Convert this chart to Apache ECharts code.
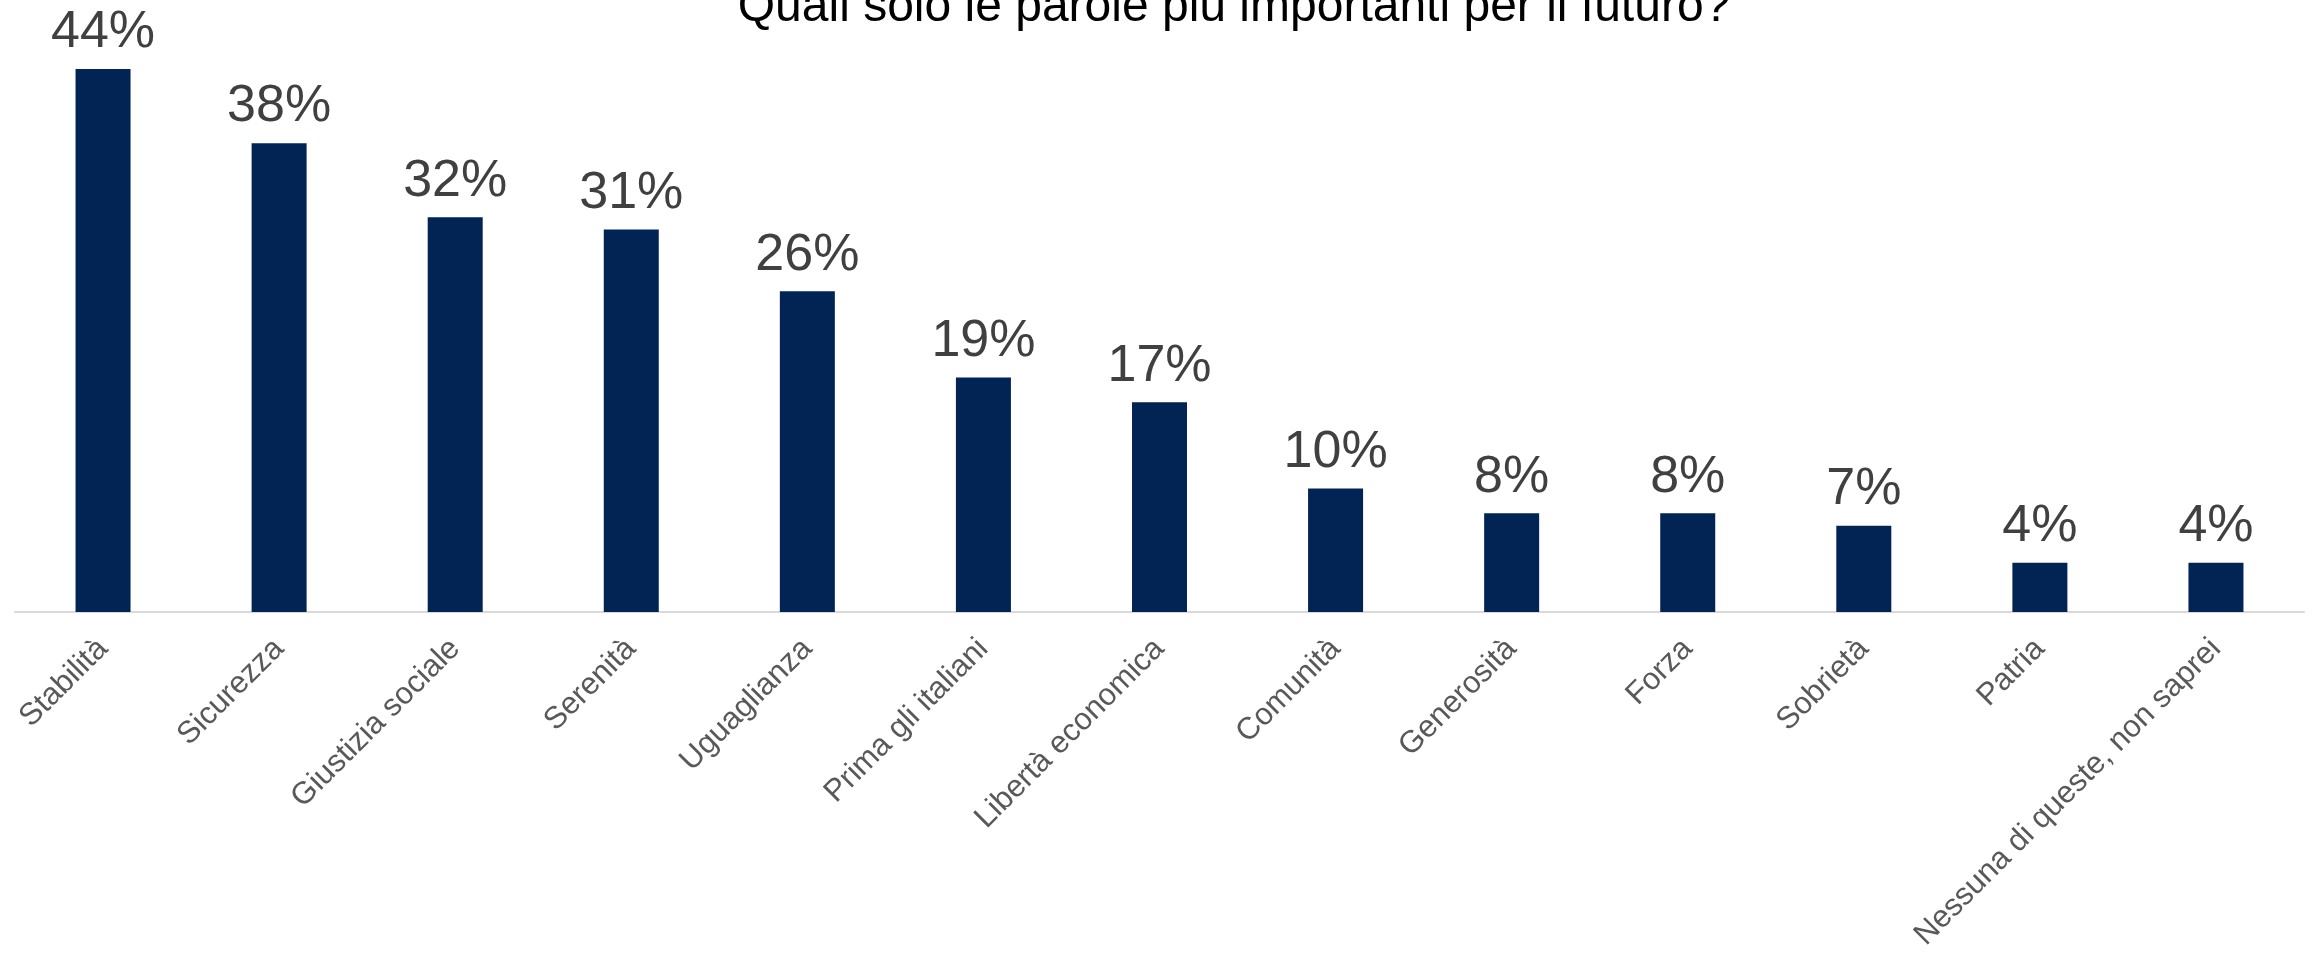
<!DOCTYPE html>
<html>
<head>
<meta charset="utf-8">
<script src="https://cdn.jsdelivr.net/npm/echarts@6/dist/echarts.min.js"></script>
<style>html,body{margin:0;padding:0;background:#fff}#c{width:2313px;height:960px}</style>
</head>
<body>
<div id="c"></div>
<script>
const categories = ["Stabilità","Sicurezza","Giustizia sociale","Serenità","Uguaglianza","Prima gli italiani","Libertà economica","Comunità","Generosità","Forza","Sobrietà","Patria","Nessuna di queste, non saprei"];
const values = [44,38,32,31,26,19,17,10,8,8,7,4,4];
const titleText = "Quali solo le parole più importanti per il futuro?";

const chart = echarts.init(document.getElementById('c'));
chart.setOption({
  animation: false,
  backgroundColor: '#fff',
  title: {
    text: titleText,
    left: 1229,
    textAlign: 'center',
    top: -21,
    textStyle: {fontFamily: 'Liberation Sans, Arial', fontSize: 48, fontWeight: 'normal', color: '#000'}
  },
  grid: {left: 15, right: 9, top: -3, bottom: 348, containLabel: false},
  xAxis: {
    type: 'category',
    data: categories,
    axisLine: {lineStyle: {color: '#d9d9d9', width: 2}},
    axisTick: {show: false},
    axisLabel: {rotate: 45, interval: 0, margin: 32, fontFamily: 'Liberation Sans, Arial', fontSize: 31, color: '#595959'}
  },
  yAxis: {type: 'value', min: 0, max: 49.6, show: false, splitLine: {show: false}},
  series: [{
    type: 'bar',
    data: values,
    barWidth: 55,
    itemStyle: {color: '#012454'},
    label: {show: true, position: 'top', distance: 10, formatter: '{c}%', fontFamily: 'Liberation Sans, Arial', fontSize: 52, color: '#404040'}
  }]
});
</script>
</body>
</html>
